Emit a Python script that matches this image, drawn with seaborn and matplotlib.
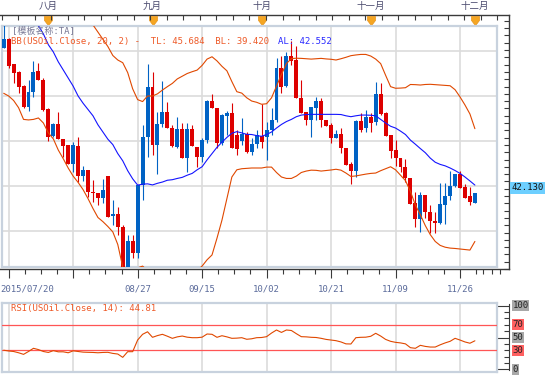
import numpy as np
import pandas as pd
import matplotlib
matplotlib.use('Agg')
import matplotlib.pyplot as plt
import matplotlib.transforms as mtransforms
import seaborn as sns

nan = np.nan

# daily candles, index 0 .. 95
open_ = [50.18, 50.67, 49.26, 48.85, 48.05, 46.91, 47.74, 48.89, 48.39, 46.78,
         45.28, 45.94, 45.11, 44.78, 43.70, 44.74, 43.07, 43.39, 42.19, 42.09,
         41.85, 43.07, 40.83, 40.93, 40.24, 38.02, 39.44, 38.80, 42.56, 45.20,
         48.02, 44.78, 45.94, 46.59, 45.70, 44.68, 45.67, 44.04, 45.67, 44.68,
         44.13, 45.06, 47.22, 46.81, 44.87, 46.41, 46.54, 45.33, 45.00, 45.37,
         44.41, 44.81, 45.29, 45.24, 45.61, 46.17, 49.04, 48.07, 49.74, 49.50,
         47.41, 46.59, 46.17, 46.85, 47.22, 46.17, 45.89, 45.19, 45.37, 44.59,
         43.70, 43.33, 46.13, 45.70, 46.35, 46.04, 47.59, 46.54, 45.33, 44.50,
         44.07, 43.57, 42.96, 41.54, 40.65, 42.00, 41.04, 40.57, 40.43, 41.44,
         41.96, 42.52, 43.15, 42.43, 41.94, 41.57]
high_ = [51.50, 50.72, 49.30, 48.90, 48.10, 48.39, 49.44, 49.31, 48.48, 46.81,
         45.98, 46.59, 45.11, 44.78, 44.96, 45.24, 43.63, 43.39, 42.83, 42.09,
         42.89, 43.07, 41.72, 41.35, 40.33, 39.78, 39.78, 42.56, 45.90, 49.26,
         48.85, 46.60, 48.33, 47.15, 45.89, 46.35, 46.00, 46.00, 45.89, 44.68,
         45.18, 47.28, 47.61, 46.81, 46.48, 46.67, 47.09, 45.60, 46.26, 45.52,
         45.15, 45.61, 47.04, 46.07, 46.81, 49.59, 49.70, 49.96, 50.55, 50.30,
         48.39, 46.59, 46.91, 47.46, 47.41, 46.17, 45.98, 45.61, 45.70, 44.59,
         43.85, 46.17, 46.54, 46.72, 46.54, 48.26, 48.20, 46.59, 45.33, 45.05,
         44.07, 43.98, 42.96, 42.19, 42.19, 42.00, 41.44, 41.07, 42.65, 42.65,
         43.35, 43.15, 43.33, 42.61, 42.46, 42.13]
low_ = [50.15, 49.07, 48.20, 47.65, 46.85, 46.67, 47.46, 48.39, 46.67, 45.00,
        45.24, 45.11, 44.13, 43.70, 43.30, 42.70, 42.78, 41.90, 41.63, 41.44,
        41.54, 40.80, 40.33, 39.78, 37.95, 37.95, 38.48, 38.50, 41.72, 44.13,
        44.22, 43.15, 45.80, 45.70, 44.68, 44.60, 44.04, 43.30, 44.74, 43.57,
        43.85, 44.87, 46.81, 44.60, 44.80, 45.33, 44.59, 44.22, 44.78, 44.31,
        44.20, 44.59, 44.59, 43.94, 45.33, 46.07, 47.65, 48.02, 49.22, 47.41,
        46.54, 45.89, 45.20, 46.17, 45.80, 45.85, 44.87, 45.15, 44.31, 43.67,
        42.59, 43.02, 45.52, 45.52, 45.52, 45.89, 46.44, 45.30, 44.07, 43.63,
        43.30, 42.74, 41.50, 40.20, 39.96, 40.70, 39.87, 39.87, 40.40, 40.40,
        41.72, 42.46, 42.37, 41.81, 41.44, 41.57]
close_ = [50.67, 49.18, 48.76, 48.02, 46.90, 47.74, 48.85, 48.39, 46.72, 45.24,
          45.94, 45.11, 44.74, 43.70, 44.78, 43.07, 43.39, 42.15, 42.09, 41.85,
          42.28, 40.80, 40.94, 40.20, 38.02, 39.44, 38.80, 42.56, 45.20, 48.02,
          44.78, 45.94, 46.59, 45.70, 44.74, 45.67, 44.04, 45.67, 44.74, 44.13,
          45.06, 47.22, 46.81, 44.87, 46.44, 46.55, 44.59, 44.55, 45.37, 44.41,
          44.83, 45.33, 44.96, 45.61, 46.17, 49.04, 48.02, 49.74, 49.44, 47.41,
          46.54, 46.17, 46.91, 47.22, 46.17, 45.85, 45.19, 45.39, 44.59, 43.67,
          43.33, 46.13, 45.61, 46.31, 45.98, 47.59, 46.48, 45.30, 44.44, 44.04,
          43.57, 42.93, 41.50, 40.65, 42.00, 41.04, 40.57, 40.43, 41.50, 41.96,
          42.52, 43.15, 42.37, 41.81, 41.59, 42.13]

# Bollinger bands (20, 2)
upper = [nan] * 16 + [
    52.30, 51.90, 51.45, 51.05, 50.65, 50.25, 49.75, 49.50, 49.35, 48.80,
    47.90, 47.30, 47.19, 47.50, 47.50, 47.62, 47.83, 48.02, 48.20, 48.45,
    48.60, 48.75, 48.85, 48.94, 49.20, 49.55, 49.68, 49.45, 49.15, 48.90,
    48.30, 47.74, 47.66, 47.40, 47.22, 47.15, 47.04, 47.07, 47.40, 48.05,
    48.70, 49.30, 49.58, 49.60, 49.59, 49.57, 49.55, 49.57, 49.59, 49.56,
    49.54, 49.50, 49.57, 49.65, 49.74, 49.78, 49.81, 49.81, 49.72, 49.55,
    49.30, 48.65, 48.02, 47.93, 47.94, 47.96, 48.14, 48.13, 48.11, 48.14,
    48.15, 48.13, 48.11, 48.09, 48.07, 47.85, 47.45, 47.00, 46.50, 45.684]
middle = [nan] * 6 + [
    51.80, 51.40, 50.95, 50.35, 49.95, 49.40, 48.95, 48.50, 48.05, 47.50,
    47.10, 46.75, 46.40, 45.90, 45.50, 45.10, 44.80, 44.30, 43.90, 43.35,
    42.90, 42.55, 42.60, 42.62, 42.56, 42.65, 42.72, 42.82, 42.85, 42.92,
    42.98, 43.10, 43.20, 43.40, 43.57, 43.95, 44.30, 44.65, 44.93, 45.20,
    45.43, 45.52, 45.45, 45.37, 45.36, 45.30, 45.26, 45.36, 45.50, 45.72,
    45.92, 46.08, 46.20, 46.35, 46.44, 46.47, 46.48, 46.48, 46.48, 46.48,
    46.48, 46.48, 46.47, 46.40, 46.35, 46.40, 46.44, 46.44, 46.43, 46.40,
    46.20, 46.00, 45.82, 45.72, 45.55, 45.36, 45.05, 44.82, 44.58, 44.35,
    44.05, 43.82, 43.70, 43.62, 43.50, 43.36, 43.20, 43.00, 42.78, 42.552]
lower = [47.65, 47.50, 47.25, 46.85, 46.20, 46.17, 46.20, 46.28, 46.00, 45.45,
         45.12, 44.50, 44.02, 43.50, 43.05, 42.70, 42.30, 41.80, 41.25, 40.75,
         40.52, 40.25, 39.95, 39.25, 38.00, 37.60, 37.70, 37.95, 38.05, 37.80,
         37.40, 37.10, 36.90, 36.80, 36.80, 36.90, 37.00, 37.20, 37.50, 37.80,
         38.05, 38.40, 38.67, 39.60, 40.60, 41.80, 43.00, 43.40, 43.46, 43.48,
         43.50, 43.50, 43.50, 43.55, 43.55, 43.25, 43.00, 42.92, 42.92, 43.05,
         43.25, 43.33, 43.38, 43.37, 43.33, 43.36, 43.39, 43.43, 43.38, 43.22,
         43.03, 43.06, 43.11, 43.16, 43.20, 43.22, 43.35, 43.46, 43.57, 43.40,
         43.10, 42.80, 42.20, 41.44, 40.90, 40.30, 39.80, 39.42, 39.20, 39.10,
         39.05, 39.03, 39.00, 38.97, 38.94, 39.42]

rsi = [30.0, 28.8, 28.0, 26.0, 23.5, 28.0, 33.0, 31.0, 28.0, 26.5,
       29.3, 27.5, 27.5, 26.0, 29.0, 28.0, 27.0, 26.7, 26.5, 26.0,
       26.5, 26.7, 25.0, 24.0, 18.8, 27.7, 27.7, 46.0, 55.0, 59.0,
       50.3, 53.0, 55.0, 52.0, 48.7, 51.0, 52.3, 50.5, 49.7, 49.7,
       50.5, 55.5, 55.0, 50.3, 52.8, 51.0, 48.7, 49.0, 49.7, 47.2,
       48.0, 49.7, 50.0, 51.3, 57.0, 61.8, 58.0, 61.8, 61.0, 56.0,
       51.3, 51.0, 50.3, 50.0, 48.7, 47.0, 46.0, 45.0, 43.0, 40.0,
       39.8, 49.7, 50.3, 50.5, 51.9, 56.6, 52.3, 47.0, 44.0, 42.4,
       41.5, 40.0, 34.0, 33.0, 37.7, 36.0, 35.0, 35.0, 38.5, 41.5,
       44.0, 48.7, 46.0, 43.0, 41.0, 44.81]

date_ticks = [1, 14, 27, 40, 53, 66, 79, 92]
date_labels = ['2015/07/20', '', '08/27', '09/15', '10/02', '10/21', '11/09', '11/26']
month_pos = [9, 30, 52, 74, 95]
month_labels = ['八月', '九月', '十月', '十一月', '十二月']
price_ticks = [40.0, 42.5, 45.0, 47.5, 50.0]
rsi_ticks = [0, 30, 50, 70, 100]
rsi_bands = [30, 70]

RED = '#dd0000'
BLUE = '#0062c4'
BAND = '#e04800'
MID = '#1414ff'
AXC = '#3a3a3a'
LBL = '#5b6b9b'
MONO = 'DejaVu Sans Mono'

sns.set_style('white')
plt.rcParams['font.family'] = ['DejaVu Sans', 'Noto Sans CJK SC']

W, H = 554, 375
STEP, X0 = 4.96, 3.7


def rect(x0, y0, x1, y1):
    return [x0 / W, 1 - y1 / H, (x1 - x0) / W, (y1 - y0) / H]


def xspan(x0, x1):
    return ((x0 - X0) / STEP, (x1 - X0) / STEP)


def price_at(y):
    return 50 - (y - 51) / 18


def rsi_at(y):
    return (369.3 - y) / 0.636


df = pd.DataFrame({'i': np.arange(len(close_)), 'open': open_, 'high': high_,
                   'low': low_, 'close': close_, 'upper': upper,
                   'middle': middle, 'lower': lower, 'rsi': rsi})

fig = plt.figure(figsize=(5.54, 3.75), dpi=100)

# ---- outer frame of the price panel (axis lines, ticks, labels)
ax_out = fig.add_axes(rect(0, 15, 509, 269))
ax_out.set_xlim(*xspan(0, 509))
ax_out.set_ylim(price_at(269), price_at(15))
ax_out.spines['left'].set_visible(False)
for s in ['top', 'bottom', 'right']:
    ax_out.spines[s].set_color(AXC)
    ax_out.spines[s].set_linewidth(1)
minor_x = list(np.arange(1, 96, 3.25)) + [96.7, 98.4, 100.1]
ax_out.set_xticks(date_ticks)
ax_out.set_xticks(minor_x, minor=True)
ax_out.tick_params(axis='x', which='major', direction='out', length=6.5, width=0.8,
                   color=AXC, labelbottom=False)
ax_out.tick_params(axis='x', which='minor', direction='out', length=3.6, width=0.8,
                   color=AXC)
ax_out.yaxis.tick_right()
ax_out.set_yticks(price_ticks, labels=[f'{v:.2f}' for v in price_ticks])
ax_out.set_yticks(np.arange(37.5, 52.01, 2.5 / 6), minor=True)
ax_out.tick_params(axis='y', which='major', direction='in', length=8.6, width=0.8,
                   color=AXC, pad=2, labelsize=6.5, labelcolor=LBL)
ax_out.tick_params(axis='y', which='minor', direction='in', length=3.6, width=0.8,
                   color=AXC)
for t in ax_out.get_yticklabels():
    t.set_family(MONO)

xtrans = ax_out.get_xaxis_transform()
for pos, lab in zip(date_ticks, date_labels):
    if pos == date_ticks[0]:
        ax_out.text(xspan(0.5, 0)[0], -20 / 254, lab, transform=xtrans, ha='left',
                    va='center', fontsize=6.5, family=MONO, color=LBL, clip_on=False)
    else:
        ax_out.text(pos, -20 / 254, lab, transform=xtrans, ha='center', va='center',
                    fontsize=6.5, family=MONO, color=LBL, clip_on=False)

# top month axis
ax_top = ax_out.twiny()
ax_top.set_xlim(*xspan(0, 509))
for s in ['left', 'right', 'bottom', 'top']:
    ax_top.spines[s].set_visible(False)
ax_top.set_xticks(np.arange(-0.4, 101.9, 3.33))
ax_top.tick_params(axis='x', direction='in', length=3.6, width=0.8, color=AXC,
                   labeltop=False, top=True, bottom=False)
ax_top.set_yticks([])
shield = [(-1, 1), (1, 1), (1, 0), (0, -1.3), (-1, 0), (-1, 1)]
ax_out.plot(month_pos, [(269 - 20) / 254] * len(month_pos), transform=xtrans,
            ls='none', marker=shield, ms=7.5, color='#f5a623', mec='#e8941a',
            mew=0.5, clip_on=False, zorder=6)
for pos, lab in zip(month_pos, month_labels):
    ax_out.text(pos, (269 - 6.5) / 254, lab, transform=xtrans, ha='center',
                va='center', fontsize=6.8, family='Noto Sans CJK SC',
                color='#4a4a6e', clip_on=False)

# last price box
ptrans = mtransforms.blended_transform_factory(ax_out.transAxes, ax_out.transData)
ax_out.text(1 + 2.5 / 509, close_[-1], f'{close_[-1]:.3f}', transform=ptrans,
            ha='left', va='center', fontsize=6.5, family=MONO, color='#111111',
            bbox=dict(facecolor='#6dcfff', edgecolor='none', pad=1.0),
            clip_on=False, zorder=8)

# ---- price panel
ax = fig.add_axes(rect(2, 26, 497, 267), zorder=3)
ax.set_facecolor('white')
up = df['close'] > df['open']
cols = np.where(up, BLUE, RED)
ax.vlines(df['i'], df['low'], df['high'], colors=cols, lw=0.8, zorder=3)
body_h = np.maximum((df['close'] - df['open']).abs(), 0.06)
ax.bar(df['i'], body_h, bottom=np.minimum(df['open'], df['close']), width=0.8,
       color=cols, linewidth=0, zorder=4)
sns.lineplot(data=df, x='i', y='upper', ax=ax, color=BAND, lw=0.8, zorder=5, legend=False)
sns.lineplot(data=df, x='i', y='lower', ax=ax, color=BAND, lw=0.8, zorder=5, legend=False)
sns.lineplot(data=df, x='i', y='middle', ax=ax, color=MID, lw=0.8, zorder=5, legend=False)
ax.set_xlim(*xspan(2, 497))
ax.set_ylim(price_at(267), price_at(26))
ax.set_xticks(date_ticks)
ax.set_yticks(price_ticks)
ax.tick_params(length=0, labelbottom=False, labelleft=False)
ax.grid(True, color='#dcdcdc', lw=1.2)
ax.set_axisbelow(True)
ax.set_xlabel('')
ax.set_ylabel('')
for s in ax.spines.values():
    s.set_color('#c8d2de')
    s.set_linewidth(1.6)

ax.text((12 - 2) / 495, (267 - 31.7) / 241, '[模板名称:TA]', transform=ax.transAxes,
        ha='left', va='center', fontsize=6.5, family=[MONO, 'Noto Sans CJK SC'],
        color='#7a7a96', zorder=7)
ax.text((11 - 2) / 495, (267 - 41.5) / 241,
        f'BB(USOil.Close, 20, 2) -  TL: {upper[-1]:.3f}  BL: {lower[-1]:.3f}',
        transform=ax.transAxes, ha='left', va='center', fontsize=6.5, family=MONO,
        color='#ee5a28', zorder=7)
ax.text((278.3 - 2) / 495, (267 - 41.5) / 241, f'AL: {middle[-1]:.3f}',
        transform=ax.transAxes, ha='left', va='center', fontsize=6.5, family=MONO,
        color='#2a2aff', zorder=7)

# ---- RSI panel
ax_rout = fig.add_axes(rect(0, 302, 509, 372))
ax_rout.set_ylim(rsi_at(372), rsi_at(302))
for s in ['left', 'top', 'bottom']:
    ax_rout.spines[s].set_visible(False)
ax_rout.spines['right'].set_color(AXC)
ax_rout.spines['right'].set_bounds(-1, 103)
ax_rout.set_xticks([])
ax_rout.yaxis.tick_right()
ax_rout.set_yticks([0, 50, 100])
ax_rout.set_yticks(range(0, 101, 10), minor=True)
ax_rout.tick_params(axis='y', which='major', direction='in', length=8.6, width=0.8,
                    color=AXC, labelright=False)
ax_rout.tick_params(axis='y', which='minor', direction='in', length=3.6, width=0.8,
                    color=AXC)
rtrans = mtransforms.blended_transform_factory(ax_rout.transAxes, ax_rout.transData)
for v in rsi_ticks:
    bg = '#ff6060' if v in rsi_bands else '#a8a8a8'
    ax_rout.text(1 + 3.5 / 509, v, str(v), transform=rtrans, ha='left', va='center',
                 fontsize=6.5, family=MONO, color='#222222',
                 bbox=dict(facecolor=bg, edgecolor='none', pad=0.6), clip_on=False)

ax_r = fig.add_axes(rect(2, 303, 497, 372), zorder=3)
ax_r.set_facecolor('white')
for v in rsi_bands:
    ax_r.axhline(v, color='#ff5555', lw=0.9, zorder=3)
sns.lineplot(data=df, x='i', y='rsi', ax=ax_r, color=BAND, lw=0.8, zorder=4, legend=False)
ax_r.set_xlim(*xspan(2, 497))
ax_r.set_ylim(rsi_at(372), rsi_at(303))
ax_r.set_xticks(date_ticks)
ax_r.set_yticks([])
ax_r.tick_params(length=0, labelbottom=False, labelleft=False)
ax_r.grid(True, axis='x', color='#dcdcdc', lw=1.2)
ax_r.set_axisbelow(True)
ax_r.set_xlabel('')
ax_r.set_ylabel('')
for s in ax_r.spines.values():
    s.set_color('#c8d2de')
    s.set_linewidth(1.6)
ax_r.text((11 - 2) / 495, (372 - 308) / 69, f'RSI(USOil.Close, 14): {rsi[-1]:.2f}',
          transform=ax_r.transAxes, ha='left', va='center', fontsize=6.5, family=MONO,
          color='#ee5a28', zorder=6)

fig.savefig('out.png', dpi=100)
